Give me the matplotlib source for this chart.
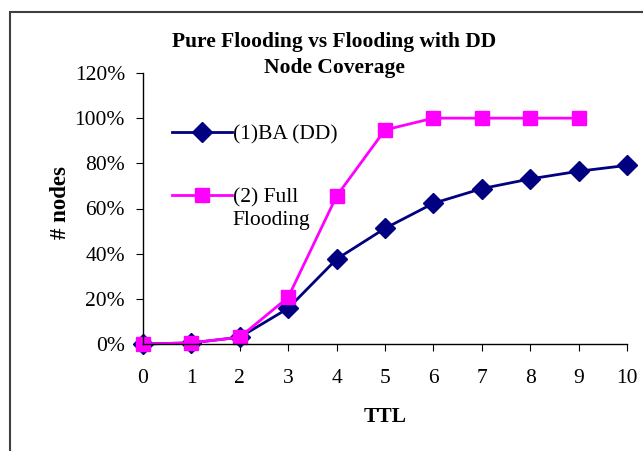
import matplotlib.pyplot as plt
from matplotlib.patches import Rectangle
from matplotlib.ticker import PercentFormatter

# data
ttl = [0, 1, 2, 3, 4, 5, 6, 7, 8, 9, 10]
ba_dd = [0.0, 0.005, 0.03, 0.158, 0.376, 0.512, 0.623, 0.688, 0.731, 0.765, 0.791]
ttl_full = [0, 1, 2, 3, 4, 5, 6, 7, 8, 9]
full_flooding = [0.0, 0.005, 0.03, 0.207, 0.655, 0.948, 1.0, 1.0, 1.0, 1.0]

plt.rcParams['font.family'] = ['Liberation Serif', 'DejaVu Serif']
fs = 15.5

fig = plt.figure(figsize=(6.43, 4.51), dpi=100)
ax = fig.add_axes([143/643, 1 - 344/451, (627 - 143)/643, (344 - 73)/451])

# chart border (Excel chart area)
fig.patches.append(Rectangle((10/643, -0.1), 1.2, 1 - 12/451 + 0.1, transform=fig.transFigure,
                             fill=False, edgecolor='#404040', linewidth=1.5))

l1, = ax.plot(ttl, ba_dd, color='#000080', marker='D', markersize=10, linewidth=2)
l2, = ax.plot(ttl_full, full_flooding, color='#FF00FF', marker='s', markersize=10, linewidth=2)

ax.set_xlim(0, 10)
ax.set_ylim(0, 1.2)
ax.set_yticks([0, 0.2, 0.4, 0.6, 0.8, 1.0, 1.2])
ax.set_xticks(ttl)
ax.yaxis.set_major_formatter(PercentFormatter(1.0, decimals=0))
ax.spines['top'].set_visible(False)
ax.spines['right'].set_visible(False)
for s in ['left', 'bottom']:
    ax.spines[s].set_linewidth(1)
ax.tick_params(direction='out', length=5, labelsize=fs, pad=8)
ax.tick_params(axis='x', pad=13)
for p in [l1, l2]:
    p.set_clip_on(False)

fig.text(334/643, 1 - 42/451, 'Pure Flooding vs Flooding with DD', ha='center', va='center',
         fontsize=fs, fontweight='bold')
fig.text(334/643, 1 - 68/451, 'Node Coverage', ha='center', va='center',
         fontsize=fs, fontweight='bold')
fig.text(60/643, 1 - 203/451, '# nodes', rotation=90, ha='center', va='center',
         fontsize=16.5, fontweight='bold')
fig.text(385/643, 1 - 417/451, 'TTL', ha='center', va='center', fontsize=fs, fontweight='bold')

ax.legend([l1, l2], ['(1)BA (DD)', '(2) Full'], loc='upper left',
          bbox_to_anchor=(161/643, 1 - 114/451), bbox_transform=fig.transFigure,
          frameon=False, fontsize=fs, handlelength=2.8, handletextpad=0.05,
          labelspacing=2.0, borderpad=0)
fig.text(232/643, 1 - 221/451, 'Flooding', ha='left', va='center', fontsize=fs)

fig.savefig('out.png', dpi=100)
